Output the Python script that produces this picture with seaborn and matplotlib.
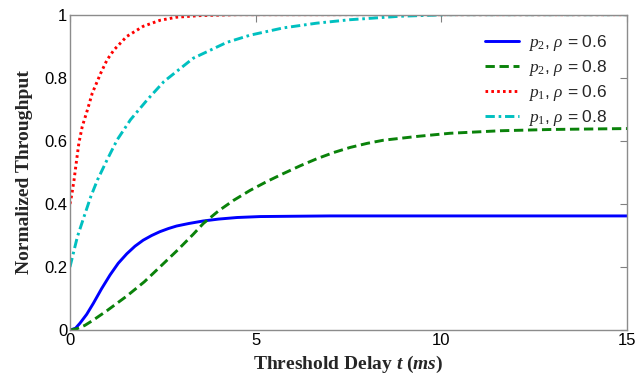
import matplotlib

matplotlib.use("Agg")

import pandas as pd
import seaborn as sns
import matplotlib.pyplot as plt

# 読み取った曲線データ (t [ms], 正規化スループット)
t_p2_06 = [0, 0.15, 0.27, 0.45, 0.63, 0.85, 1.08, 1.3, 1.53, 1.75, 1.97, 2.2,
           2.42, 2.65, 2.87, 3.2, 3.59, 4.0, 4.5, 5.12, 6, 7, 8, 10, 12, 15]
y_p2_06 = [0, 0.006, 0.022, 0.05, 0.085, 0.131, 0.175, 0.212, 0.242, 0.266,
           0.285, 0.300, 0.312, 0.322, 0.330, 0.338, 0.346, 0.352, 0.357,
           0.360, 0.361, 0.362, 0.362, 0.362, 0.362, 0.362]

t_p2_08 = [0, 0.2, 0.4, 0.63, 1.0, 1.53, 2.0, 2.42, 2.9, 3.32, 3.59, 4.0, 4.4,
           4.85, 5.3, 5.74, 6.2, 6.64, 7.1, 7.54, 8.0, 8.44, 9.34, 10.23,
           11.58, 12.93, 15]
y_p2_08 = [0, 0.005, 0.015, 0.032, 0.062, 0.108, 0.153, 0.2, 0.254, 0.304,
           0.338, 0.378, 0.411, 0.443, 0.471, 0.496, 0.521, 0.543, 0.563,
           0.579, 0.592, 0.602, 0.614, 0.624, 0.632, 0.636, 0.639]

t_p1_06 = [0, 0.05, 0.11, 0.18, 0.24, 0.33, 0.47, 0.6, 0.83, 1.0, 1.19, 1.53,
           1.97, 2.42, 2.87, 3.5, 4.5, 6, 8, 10, 15]
y_p1_06 = [0.40, 0.43, 0.476, 0.54, 0.593, 0.645, 0.698, 0.751, 0.815, 0.857,
           0.889, 0.931, 0.963, 0.982, 0.992, 0.997, 1.0, 1.0, 1.0, 1.0, 1.0]

t_p1_08 = [0, 0.2, 0.38, 0.56, 0.74, 1.0, 1.27, 1.63, 2.08, 2.53, 3.32, 4.22,
           4.85, 5.74, 6.64, 7.54, 8.89, 10.2, 12, 15]
y_p1_08 = [0.20, 0.296, 0.36, 0.423, 0.476, 0.54, 0.603, 0.667, 0.73, 0.788,
           0.862, 0.912, 0.935, 0.958, 0.973, 0.984, 0.995, 1.0, 1.0, 1.0]

labels = [r"$p_2$, $\rho$ = 0.6", r"$p_2$, $\rho$ = 0.8",
          r"$p_1$, $\rho$ = 0.6", r"$p_1$, $\rho$ = 0.8"]


def main() -> None:
    sns.set_theme(style="white")
    plt.rcParams["font.family"] = ["Liberation Sans", "DejaVu Sans"]
    plt.rcParams["mathtext.fontset"] = "custom"
    plt.rcParams["mathtext.rm"] = "Liberation Serif"
    plt.rcParams["mathtext.it"] = "Liberation Serif:italic"
    plt.rcParams["mathtext.bf"] = "Liberation Serif:bold"
    plt.rcParams["mathtext.bfit"] = "Liberation Serif:italic:bold"

    fig = plt.figure(figsize=(6.36, 3.76), dpi=100)
    ax = fig.add_axes([0.110, 0.122, 0.876, 0.839])

    series = [
        (t_p2_06, y_p2_06, "#0000ff", "-"),
        (t_p2_08, y_p2_08, "#0a820a", (0, (3.2, 1.6))),
        (t_p1_06, y_p1_06, "#ff0000", (0, (0.9, 1.1))),
        (t_p1_08, y_p1_08, "#00c0c0", (0, (3.2, 1.3, 0.9, 1.3))),
    ]
    for (t, y, color, ls), label in zip(series, labels):
        df = pd.DataFrame({"t": t, "y": y})
        sns.lineplot(data=df, x="t", y="y", ax=ax, color=color, linestyle=ls,
                     linewidth=2.1, label=label, sort=False)

    ax.set_xlim(0, 15)
    ax.set_ylim(0, 1)
    ax.set_xticks([0, 5, 10, 15])
    ax.set_yticks([0, 0.2, 0.4, 0.6, 0.8, 1])
    ax.set_xticklabels(["0", "5", "10", "15"])
    ax.set_yticklabels(["0", "0.2", "0.4", "0.6", "0.8", "1"])
    ax.tick_params(direction="in", top=True, right=True, length=5, width=0.8,
                   color="#808080", labelsize=12, labelcolor="black", pad=2)
    for sp in ax.spines.values():
        sp.set_color("#8c8c8c")
        sp.set_linewidth(1.0)

    ax.set_xlabel(r"Threshold Delay $\mathbfit{t}$ ($\mathbfit{ms}$)",
                  family="Liberation Serif", fontweight="bold", fontsize=14,
                  labelpad=4)
    ax.set_ylabel("Normalized Throughput", family="Liberation Serif",
                  fontweight="bold", fontsize=14, labelpad=8)

    leg = ax.legend(loc="upper right", bbox_to_anchor=(0.993, 0.99),
                    frameon=False, fontsize=12.5, handlelength=1.95,
                    labelspacing=0.28, handletextpad=0.55)
    for line in leg.get_lines():
        line.set_linewidth(2.1)

    fig.savefig("out.png", dpi=100)
    plt.close(fig)


if __name__ == "__main__":
    main()
